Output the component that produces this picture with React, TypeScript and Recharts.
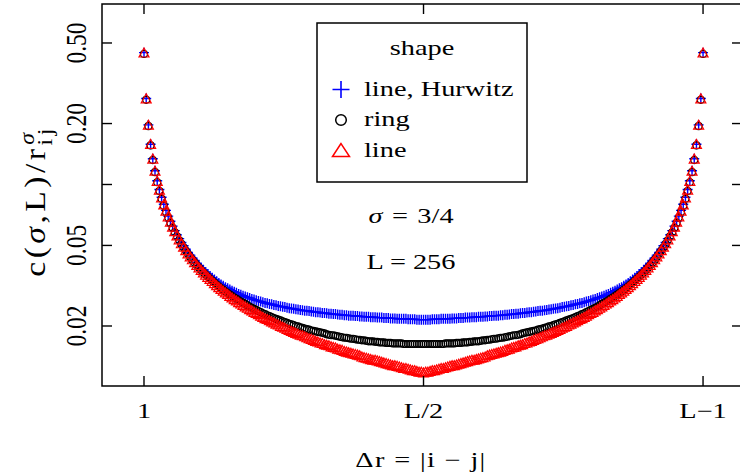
import React from 'react';
import { ScatterChart, Scatter, XAxis, YAxis, ReferenceArea, Legend } from 'recharts';

// pair distance |i-j| on a chain of 256 sites
const distances = [
  1, 2, 3, 4, 5, 6, 7, 8, 9, 10, 11, 12, 13, 14, 15, 16, 17, 18, 19, 20,
  21, 22, 23, 24, 25, 26, 27, 28, 29, 30, 31, 32, 33, 34, 35, 36, 37, 38, 39, 40,
  41, 42, 43, 44, 45, 46, 47, 48, 49, 50, 51, 52, 53, 54, 55, 56, 57, 58, 59, 60,
  61, 62, 63, 64, 65, 66, 67, 68, 69, 70, 71, 72, 73, 74, 75, 76, 77, 78, 79, 80,
  81, 82, 83, 84, 85, 86, 87, 88, 89, 90, 91, 92, 93, 94, 95, 96, 97, 98, 99, 100,
  101, 102, 103, 104, 105, 106, 107, 108, 109, 110, 111, 112, 113, 114, 115, 116, 117, 118, 119, 120,
  121, 122, 123, 124, 125, 126, 127, 128, 129, 130, 131, 132, 133, 134, 135, 136, 137, 138, 139, 140,
  141, 142, 143, 144, 145, 146, 147, 148, 149, 150, 151, 152, 153, 154, 155, 156, 157, 158, 159, 160,
  161, 162, 163, 164, 165, 166, 167, 168, 169, 170, 171, 172, 173, 174, 175, 176, 177, 178, 179, 180,
  181, 182, 183, 184, 185, 186, 187, 188, 189, 190, 191, 192, 193, 194, 195, 196, 197, 198, 199, 200,
  201, 202, 203, 204, 205, 206, 207, 208, 209, 210, 211, 212, 213, 214, 215, 216, 217, 218, 219, 220,
  221, 222, 223, 224, 225, 226, 227, 228, 229, 230, 231, 232, 233, 234, 235, 236, 237, 238, 239, 240,
  241, 242, 243, 244, 245, 246, 247, 248, 249, 250, 251, 252, 253, 254, 255,
];

const lineHurwitz = [
  0.448, 0.266, 0.197, 0.158, 0.134, 0.117, 0.1043, 0.0944, 0.0865, 0.0799,
  0.0745, 0.0698, 0.0658, 0.0623, 0.0592, 0.0564, 0.0540, 0.0517, 0.0498, 0.0479,
  0.0462, 0.0448, 0.0434, 0.0421, 0.0409, 0.0398, 0.0387, 0.0378, 0.0369, 0.0361,
  0.0353, 0.0346, 0.0339, 0.0333, 0.0326, 0.0321, 0.0316, 0.0311, 0.0307, 0.0303,
  0.0299, 0.0295, 0.0292, 0.0288, 0.0285, 0.0282, 0.0280, 0.0277, 0.0275, 0.0272,
  0.0270, 0.0268, 0.0266, 0.0264, 0.0262, 0.0260, 0.0259, 0.0257, 0.0256, 0.0254,
  0.0253, 0.0251, 0.0250, 0.0249, 0.0248, 0.0246, 0.0245, 0.0244, 0.0243, 0.0242,
  0.0241, 0.0240, 0.0239, 0.0238, 0.0238, 0.0237, 0.0236, 0.0235, 0.0234, 0.0234,
  0.0233, 0.0232, 0.0232, 0.0231, 0.0230, 0.0230, 0.0229, 0.0229, 0.0228, 0.0227,
  0.0227, 0.0226, 0.0226, 0.0225, 0.0225, 0.0225, 0.0224, 0.0224, 0.0223, 0.0223,
  0.0222, 0.0222, 0.0222, 0.0221, 0.0221, 0.0221, 0.0220, 0.0220, 0.0220, 0.0219,
  0.0219, 0.0219, 0.0218, 0.0218, 0.0218, 0.0217, 0.0217, 0.0217, 0.0217, 0.0217,
  0.0216, 0.0216, 0.0216, 0.0216, 0.0215, 0.0215, 0.0215, 0.0215,
  0.0215, 0.0215, 0.0215, 0.0216, 0.0216, 0.0216, 0.0216,
  0.0217, 0.0217, 0.0217, 0.0217, 0.0217, 0.0218, 0.0218, 0.0218, 0.0219, 0.0219,
  0.0219, 0.0220, 0.0220, 0.0220, 0.0221, 0.0221, 0.0221, 0.0222, 0.0222, 0.0222,
  0.0223, 0.0223, 0.0224, 0.0224, 0.0225, 0.0225, 0.0225, 0.0226, 0.0226, 0.0227,
  0.0227, 0.0228, 0.0229, 0.0229, 0.0230, 0.0230, 0.0231, 0.0232, 0.0232, 0.0233,
  0.0234, 0.0234, 0.0235, 0.0236, 0.0237, 0.0238, 0.0238, 0.0239, 0.0240, 0.0241,
  0.0242, 0.0243, 0.0244, 0.0245, 0.0246, 0.0248, 0.0249, 0.0250, 0.0251, 0.0253,
  0.0254, 0.0256, 0.0257, 0.0259, 0.0260, 0.0262, 0.0264, 0.0266, 0.0268, 0.0270,
  0.0272, 0.0275, 0.0277, 0.0280, 0.0282, 0.0285, 0.0288, 0.0292, 0.0295, 0.0299,
  0.0303, 0.0307, 0.0311, 0.0316, 0.0321, 0.0326, 0.0333, 0.0339, 0.0346, 0.0353,
  0.0361, 0.0369, 0.0378, 0.0387, 0.0398, 0.0409, 0.0421, 0.0434, 0.0448, 0.0462,
  0.0479, 0.0498, 0.0517, 0.0540, 0.0564, 0.0592, 0.0623, 0.0658, 0.0698, 0.0745,
  0.0799, 0.0865, 0.0944, 0.1043, 0.117, 0.134, 0.158, 0.197, 0.266, 0.448,
];

const ring = [
  0.441, 0.262, 0.194, 0.156, 0.132, 0.115, 0.1026, 0.0928, 0.0850, 0.0786,
  0.0732, 0.0686, 0.0646, 0.0611, 0.0581, 0.0554, 0.0530, 0.0507, 0.0488, 0.0470,
  0.0453, 0.0438, 0.0424, 0.0411, 0.0399, 0.0388, 0.0377, 0.0367, 0.0359, 0.0350,
  0.0342, 0.0334, 0.0327, 0.0320, 0.0313, 0.0307, 0.0302, 0.0296, 0.0291, 0.0286,
  0.0281, 0.0276, 0.0272, 0.0268, 0.0264, 0.0260, 0.0257, 0.0253, 0.0249, 0.0246,
  0.0243, 0.0240, 0.0237, 0.0234, 0.0231, 0.0229, 0.0226, 0.0224, 0.0221, 0.0219,
  0.0217, 0.0215, 0.0213, 0.0211, 0.0209, 0.0207, 0.0205, 0.0204, 0.0202, 0.0200,
  0.0199, 0.0197, 0.0196, 0.0194, 0.0193, 0.0192, 0.0190, 0.0189, 0.0188, 0.0187,
  0.0186, 0.0185, 0.0184, 0.0182, 0.0181, 0.0180, 0.0180, 0.0179, 0.0178, 0.0177,
  0.0176, 0.0175, 0.0175, 0.0174, 0.0173, 0.0173, 0.0172, 0.0171, 0.0171, 0.0170,
  0.0170, 0.0169, 0.0168, 0.0168, 0.0168, 0.0167, 0.0167, 0.0166, 0.0166, 0.0166,
  0.0165, 0.0165, 0.0165, 0.0164, 0.0164, 0.0164, 0.0164, 0.0164, 0.0163, 0.0163,
  0.0163, 0.0163, 0.0163, 0.0163, 0.0163, 0.0163, 0.0163, 0.0163,
  0.0163, 0.0163, 0.0163, 0.0163, 0.0163, 0.0163, 0.0163,
  0.0163, 0.0163, 0.0164, 0.0164, 0.0164, 0.0164, 0.0164, 0.0165, 0.0165, 0.0165,
  0.0166, 0.0166, 0.0166, 0.0167, 0.0167, 0.0168, 0.0168, 0.0168, 0.0169, 0.0170,
  0.0170, 0.0171, 0.0171, 0.0172, 0.0173, 0.0173, 0.0174, 0.0175, 0.0175, 0.0176,
  0.0177, 0.0178, 0.0179, 0.0180, 0.0180, 0.0181, 0.0182, 0.0184, 0.0185, 0.0186,
  0.0187, 0.0188, 0.0189, 0.0190, 0.0192, 0.0193, 0.0194, 0.0196, 0.0197, 0.0199,
  0.0200, 0.0202, 0.0204, 0.0205, 0.0207, 0.0209, 0.0211, 0.0213, 0.0215, 0.0217,
  0.0219, 0.0221, 0.0224, 0.0226, 0.0229, 0.0231, 0.0234, 0.0237, 0.0240, 0.0243,
  0.0246, 0.0249, 0.0253, 0.0257, 0.0260, 0.0264, 0.0268, 0.0272, 0.0276, 0.0281,
  0.0286, 0.0291, 0.0296, 0.0302, 0.0307, 0.0313, 0.0320, 0.0327, 0.0334, 0.0342,
  0.0350, 0.0359, 0.0367, 0.0377, 0.0388, 0.0399, 0.0411, 0.0424, 0.0438, 0.0453,
  0.0470, 0.0488, 0.0507, 0.0530, 0.0554, 0.0581, 0.0611, 0.0646, 0.0686, 0.0732,
  0.0786, 0.0850, 0.0928, 0.1026, 0.115, 0.132, 0.156, 0.194, 0.262, 0.441,
];

const line = [
  0.441, 0.262, 0.194, 0.156, 0.132, 0.115, 0.1025, 0.0927, 0.0849, 0.0784,
  0.0730, 0.0684, 0.0644, 0.0609, 0.0579, 0.0551, 0.0527, 0.0504, 0.0485, 0.0466,
  0.0449, 0.0434, 0.0420, 0.0407, 0.0394, 0.0383, 0.0372, 0.0362, 0.0353, 0.0344,
  0.0336, 0.0328, 0.0320, 0.0313, 0.0306, 0.0300, 0.0294, 0.0288, 0.0283, 0.0277,
  0.0272, 0.0267, 0.0263, 0.0258, 0.0254, 0.0250, 0.0246, 0.0242, 0.0238, 0.0235,
  0.0231, 0.0228, 0.0225, 0.0221, 0.0218, 0.0215, 0.0213, 0.0210, 0.0207, 0.0205,
  0.0202, 0.0200, 0.0197, 0.0195, 0.0193, 0.0190, 0.0188, 0.0186, 0.0184, 0.0182,
  0.0180, 0.0178, 0.0177, 0.0175, 0.0173, 0.0171, 0.0170, 0.0168, 0.0166, 0.0165,
  0.0163, 0.0162, 0.0160, 0.0159, 0.0158, 0.0156, 0.0155, 0.0154, 0.0152, 0.0151,
  0.0150, 0.0148, 0.0147, 0.0146, 0.0145, 0.0144, 0.0143, 0.0142, 0.0141, 0.0139,
  0.0138, 0.0137, 0.0136, 0.0135, 0.0134, 0.0134, 0.0133, 0.0132, 0.0131, 0.0130,
  0.0129, 0.0128, 0.0127, 0.0126, 0.0126, 0.0125, 0.0124, 0.0123, 0.0122, 0.0122,
  0.0121, 0.0120, 0.0119, 0.0119, 0.0118, 0.0117, 0.0117, 0.0116,
  0.0117, 0.0117, 0.0118, 0.0119, 0.0119, 0.0120, 0.0121,
  0.0122, 0.0122, 0.0123, 0.0124, 0.0125, 0.0126, 0.0126, 0.0127, 0.0128, 0.0129,
  0.0130, 0.0131, 0.0132, 0.0133, 0.0134, 0.0134, 0.0135, 0.0136, 0.0137, 0.0138,
  0.0139, 0.0141, 0.0142, 0.0143, 0.0144, 0.0145, 0.0146, 0.0147, 0.0148, 0.0150,
  0.0151, 0.0152, 0.0154, 0.0155, 0.0156, 0.0158, 0.0159, 0.0160, 0.0162, 0.0163,
  0.0165, 0.0166, 0.0168, 0.0170, 0.0171, 0.0173, 0.0175, 0.0177, 0.0178, 0.0180,
  0.0182, 0.0184, 0.0186, 0.0188, 0.0190, 0.0193, 0.0195, 0.0197, 0.0200, 0.0202,
  0.0205, 0.0207, 0.0210, 0.0213, 0.0215, 0.0218, 0.0221, 0.0225, 0.0228, 0.0231,
  0.0235, 0.0238, 0.0242, 0.0246, 0.0250, 0.0254, 0.0258, 0.0263, 0.0267, 0.0272,
  0.0277, 0.0283, 0.0288, 0.0294, 0.0300, 0.0306, 0.0313, 0.0320, 0.0328, 0.0336,
  0.0344, 0.0353, 0.0362, 0.0372, 0.0383, 0.0394, 0.0407, 0.0420, 0.0434, 0.0449,
  0.0466, 0.0485, 0.0504, 0.0527, 0.0551, 0.0579, 0.0609, 0.0644, 0.0684, 0.0730,
  0.0784, 0.0849, 0.0927, 0.1025, 0.115, 0.132, 0.156, 0.194, 0.262, 0.441,
];

const xTicks = [1, 128, 255];
const xTickLabels = ['1', 'L/2', 'L\u22121'];
const yTicks = [0.02, 0.05, 0.1, 0.2, 0.5];
const yTickLabels = ['0.02', '0.05', '', '0.20', '0.50'];

const X_DOMAIN = [-18.08, 272.7];
const Y_DOMAIN = [0.010107, 0.779];

// plot box in pixels (frame + inward ticks)
const BOX = { left: 102, right: 742, top: 4, bottom: 386 };
const TICK_LEN = 10;

const FONT = '"Liberation Serif", "Times New Roman", serif';
const STRETCH = 1.35; // wide roman face

const toPoints = (vals: number[]) => distances.map((r, i) => ({ r, c: vals[i] }));

// horizontal text, widened; rotated text gets its own scale pair
const Txt = ({ x, y, size = 21, rotate = false, sx = 1, sy = STRETCH, spacing = 0, anchor = 'middle', children }: any) => (
  <text
    transform={rotate
      ? `translate(${x},${y}) rotate(-90) scale(${sx},${sy})`
      : `translate(${x},${y}) scale(${STRETCH},1)`}
    textAnchor={anchor}
    fontFamily={FONT}
    fontSize={size}
    letterSpacing={spacing}
    fill="#000"
  >
    {children}
  </text>
);

const plusPath = (cx: number, cy: number, h: number) =>
  `M${cx - h},${cy}H${cx + h}M${cx},${cy - h}V${cy + h}`;
const triPoints = (cx: number, cy: number, w: number, up: number, down: number) =>
  `${cx},${cy - up} ${cx - w},${cy + down} ${cx + w},${cy + down}`;

const PlusMark = ({ cx, cy }: any) => (
  <path d={plusPath(cx, cy, 5)} stroke="#0000ff" strokeWidth={1.4} fill="none" />
);
const CircleMark = ({ cx, cy }: any) => (
  <circle cx={cx} cy={cy} r={3.5} stroke="#000" strokeWidth={1.2} fill="none" />
);
const TriMark = ({ cx, cy }: any) => (
  <polygon points={triPoints(cx, cy, 5, 6, 3)} stroke="#ff0000" strokeWidth={1.2} fill="none" />
);

const XTick = (props: any) => {
  const { x, payload } = props;
  const i = xTicks.indexOf(payload.value);
  return (
    <g>
      <line x1={x} x2={x} y1={BOX.bottom} y2={BOX.bottom - TICK_LEN} stroke="#000" strokeWidth={1.4} />
      <line x1={x} x2={x} y1={BOX.top} y2={BOX.top + TICK_LEN} stroke="#000" strokeWidth={1.4} />
      <Txt x={x} y={418}>{xTickLabels[i]}</Txt>
    </g>
  );
};

const YTick = (props: any) => {
  const { y, payload } = props;
  const i = yTicks.indexOf(payload.value);
  return (
    <g>
      <line x1={BOX.left} x2={BOX.left + TICK_LEN} y1={y} y2={y} stroke="#000" strokeWidth={1.4} />
      <line x1={BOX.right - TICK_LEN} x2={BOX.right} y1={y} y2={y} stroke="#000" strokeWidth={1.4} />
      {yTickLabels[i] && <Txt x={86} y={y} rotate sx={1.12} sy={1.4}>{yTickLabels[i]}</Txt>}
    </g>
  );
};

const legendRows = [
  { name: 'line, Hurwitz', y: 95.5, mark: 'plus' },
  { name: 'ring', y: 126, mark: 'circle' },
  { name: 'line', y: 156.5, mark: 'tri' },
];

const LegendBox = () => (
  <svg width={214} height={164} style={{ display: 'block' }}>
    <rect x={1} y={1} width={210} height={159} fill="#fff" stroke="#000" strokeWidth={1.5} />
    <Txt x={106} y={33}>shape</Txt>
    {legendRows.map((row) => {
      const cy = row.y - 22 - 7;
      const cx = 25;
      return (
        <g key={row.name}>
          {row.mark === 'plus' && <path d={plusPath(cx, cy + 1, 8.5)} stroke="#0000ff" strokeWidth={1.6} fill="none" />}
          {row.mark === 'circle' && <circle cx={cx} cy={cy + 1} r={5.3} stroke="#000" strokeWidth={1.5} fill="none" />}
          {row.mark === 'tri' && <polygon points={triPoints(cx, cy + 1, 8.5, 7, 6)} stroke="#ff0000" strokeWidth={1.5} fill="none" />}
          <Txt x={48} y={row.y - 22} anchor="start">{row.name}</Txt>
        </g>
      );
    })}
  </svg>
);

export default function App() {
  return (
    <div style={{ position: 'relative', width: 740, height: 476, overflow: 'hidden', background: '#fff' }}>
      <style>{'body{margin:0;background:#fff}'}</style>
      <ScatterChart width={742} height={476} margin={{ top: 4, right: 0, bottom: 0, left: 0 }}>
        <XAxis
          type="number"
          dataKey="r"
          domain={X_DOMAIN}
          ticks={xTicks}
          interval={0}
          allowDataOverflow
          height={90}
          axisLine={false}
          tickLine={false}
          tick={<XTick />}
        />
        <YAxis
          type="number"
          dataKey="c"
          scale="log"
          domain={Y_DOMAIN}
          ticks={yTicks}
          interval={0}
          allowDataOverflow
          width={102}
          axisLine={false}
          tickLine={false}
          tick={<YTick />}
        />
        <ReferenceArea
          x1={X_DOMAIN[0]}
          x2={X_DOMAIN[1]}
          y1={Y_DOMAIN[0]}
          y2={Y_DOMAIN[1]}
          fill="none"
          fillOpacity={0}
          stroke="#000"
          strokeWidth={1.5}
          strokeOpacity={1}
        />
        <Scatter name="line, Hurwitz" data={toPoints(lineHurwitz)} shape={<PlusMark />} isAnimationActive={false} />
        <Scatter name="ring" data={toPoints(ring)} shape={<CircleMark />} isAnimationActive={false} />
        <Scatter name="line" data={toPoints(line)} shape={<TriMark />} isAnimationActive={false} />
        <Legend
          verticalAlign="middle"
          align="center"
          content={() => <LegendBox />}
          wrapperStyle={{ left: 316, top: 22, width: 214, height: 164 }}
        />
      </ScatterChart>
      <svg
        width={740}
        height={476}
        style={{ position: 'absolute', left: 0, top: 0, pointerEvents: 'none' }}
      >
        <Txt x={45} y={201} size={24} rotate sx={1.4} sy={1.2} spacing={2.5}>
          c(<tspan fontStyle="italic">σ</tspan>,L)/r
          <tspan fontSize={17} dy={6}>ij</tspan>
          <tspan fontSize={17} fontStyle="italic" dx={-14} dy={-15}>σ</tspan>
        </Txt>
        <Txt x={411} y={223}>
          <tspan fontStyle="italic">σ</tspan>{'\u2004=\u20043/4'}
        </Txt>
        <Txt x={411} y={269}>L = 256</Txt>
        <Txt x={421} y={467} spacing={1}>{'Δr = |i \u2212 j|'}</Txt>
      </svg>
    </div>
  );
}
